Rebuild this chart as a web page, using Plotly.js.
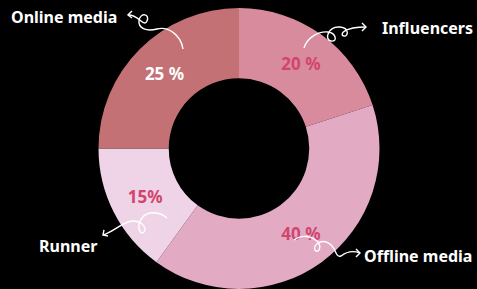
<!DOCTYPE html>
<html>
<head>
<meta charset="utf-8">
<script src="https://cdn.plot.ly/plotly-3.0.1.min.js"></script>
<style>html,body{margin:0;padding:0;background:#000;}#chart{width:477px;height:289px;}</style>
</head>
<body>
<div id="chart"></div>
<script>
// Data
const categories = ["Influencers", "Offline media", "Runner", "Online media"];
const values = [20, 40, 15, 25];
const percentLabels = ["20 %", "40 %", "15%", "25 %"];
const sliceColors = ["#d98b9e", "#e3aac4", "#efd3e6", "#c47176"];
const percentTextColors = ["#d1456f", "#d1456f", "#d1456f", "#ffffff"];

const W = 477, H = 289;
const px = (x) => x / W;
const py = (y) => 1 - y / H;
function pathPx(cmds) {
  return cmds.map(c => c[0] + ' ' + c.slice(1).reduce((acc, v, i) => {
    acc.push(i % 2 === 0 ? px(v).toFixed(4) : py(v).toFixed(4));
    return acc;
  }, []).join(' ')).join(' ');
}

const curl = (cmds) => ({
  type: 'path', xref: 'paper', yref: 'paper',
  path: pathPx(cmds),
  line: {color: '#ffffff', width: 1.4}
});

const shapes = [
  // Online media curl
  curl([["M", 183, 49], ["C", 181, 35, 168, 26, 157, 29], ["C", 146, 32, 138, 28, 139, 20], ["C", 141, 12, 150, 14, 147, 21], ["C", 144, 28, 138, 14, 128, 15]]),
  curl([["M", 132, 11], ["L", 128, 15], ["L", 132, 18]]),
  // Influencers curl
  curl([["M", 304, 48], ["C", 307, 38, 318, 31, 328, 32], ["C", 336, 33, 338, 42, 331, 41], ["C", 324, 40, 328, 26, 340, 27], ["C", 350, 28, 348, 37, 344, 36], ["C", 339, 35, 343, 27, 366, 27]]),
  curl([["M", 362, 23], ["L", 366, 27], ["L", 362, 31]]),
  // Runner curl
  curl([["M", 167, 218], ["C", 160, 212, 148, 210, 142, 218], ["C", 136, 226, 140, 236, 144, 232], ["C", 148, 228, 140, 218, 128, 222], ["C", 118, 226, 112, 232, 103, 235]]),
  curl([["M", 104, 230], ["L", 103, 235], ["L", 108, 236]]),
  // Offline media curl
  curl([["M", 294, 240], ["C", 302, 234, 312, 236, 318, 242], ["C", 322, 248, 318, 254, 315, 250], ["C", 312, 246, 322, 236, 332, 246], ["C", 336, 250, 336, 258, 341, 256], ["C", 346, 252, 352, 250, 360, 253]]),
  curl([["M", 356, 249], ["L", 360, 253], ["L", 356, 257]])
];

const labelFont = {family: "Noto Sans, Open Sans, sans-serif", size: 16, color: "#ffffff"};
const annotations = [
  {text: "<b>Online media</b>", x: px(9), y: py(17), xanchor: 'left', yanchor: 'middle'},
  {text: "<b>Influencers</b>", x: px(380), y: py(28), xanchor: 'left', yanchor: 'middle'},
  {text: "<b>Runner</b>", x: px(37), y: py(246), xanchor: 'left', yanchor: 'middle'},
  {text: "<b>Offline media</b>", x: px(362), y: py(256), xanchor: 'left', yanchor: 'middle'}
].map(a => Object.assign({xref: 'paper', yref: 'paper', showarrow: false, font: labelFont}, a));

const trace = {
  type: 'pie',
  labels: categories,
  values: values,
  text: percentLabels,
  texttemplate: '<b>%{text}</b>',
  textinfo: 'text',
  textposition: 'inside',
  insidetextorientation: 'horizontal',
  textfont: {family: "Noto Sans, Open Sans, sans-serif", size: 17, color: percentTextColors},
  hole: 0.5,
  sort: false,
  direction: 'clockwise',
  rotation: 0,
  marker: {colors: sliceColors, line: {width: 0}},
  domain: {x: [px(98), px(380)], y: [0, py(8)]},
  showlegend: false,
  hoverinfo: 'none'
};

const layout = {
  width: W, height: H,
  margin: {l: 0, r: 0, t: 0, b: 0},
  paper_bgcolor: '#000000',
  plot_bgcolor: '#000000',
  showlegend: false,
  shapes: shapes,
  annotations: annotations,
  uniformtext: {minsize: 17, mode: 'show'}
};

Plotly.newPlot('chart', [trace], layout, {displayModeBar: false, staticPlot: true});
</script>
</body>
</html>
